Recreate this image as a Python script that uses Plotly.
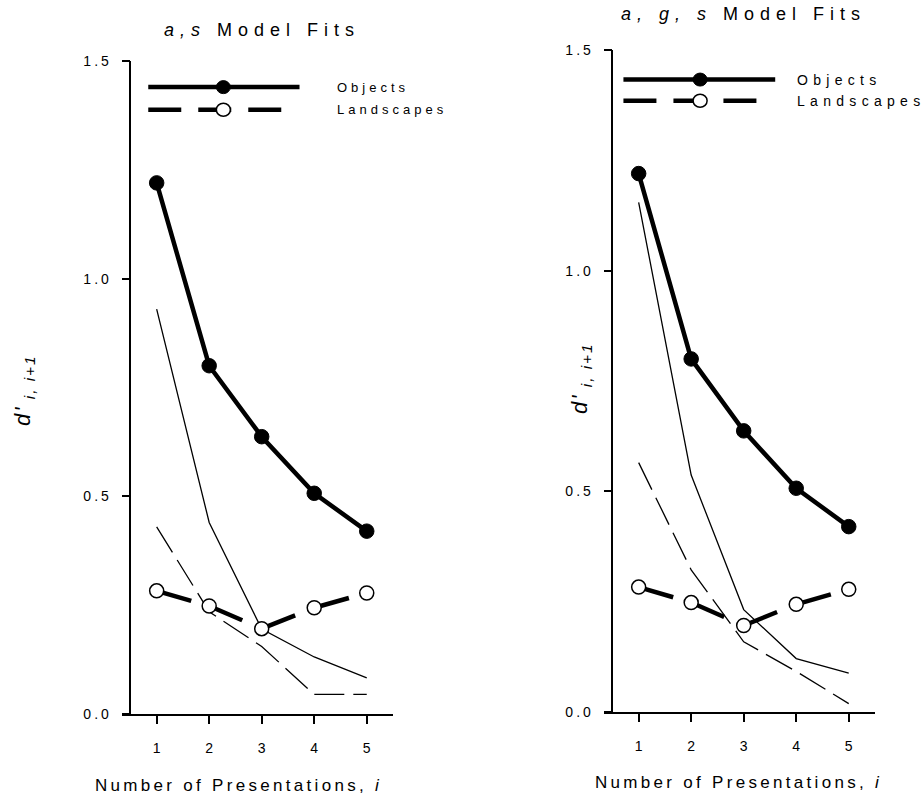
import plotly.graph_objects as go

# ---------------- data ----------------
presentations = [1, 2, 3, 4, 5]
objects_obs = [1.22, 0.80, 0.637, 0.507, 0.42]
landscapes_obs = [0.283, 0.248, 0.196, 0.244, 0.278]

as_objects_fit = [0.93, 0.44, 0.195, 0.131, 0.083]
as_landscapes_fit = [0.43, 0.235, 0.155, 0.045, 0.045]

ags_objects_fit = [1.155, 0.537, 0.232, 0.121, 0.088]
ags_landscapes_fit = [0.565, 0.322, 0.159, 0.092, 0.019]

panel_titles = ["<i>a,s</i> Model Fits", "<i>a, g, s</i> Model Fits"]
x_title = "Number of Presentations, <i>i</i>"
y_title = "<i>d'</i><sub><i> i, i+1</i></sub>"
legend_labels = ["Objects", "Landscapes"]
x_ticks = [1, 2, 3, 4, 5]
y_ticks = [0.0, 0.5, 1.0, 1.5]
y_ticktext = ["0.0", "0.5", "1.0", "1.5"]

# ---------------- layout geometry ----------------
W, H = 924, 801
FONT = "Liberation Sans, Arial, sans-serif"
XR = [0.34, 5.5]
YR = [0, 1.5]


def px_x(v):
    return v / W


def px_y(v):
    return 1 - v / H


def spaced(txt, px):
    return "<span style='letter-spacing:%spx'>%s</span>" % (px, txt)


def spaced_plain(txt, px):
    # letter spacing between characters only (no trailing space after the last one)
    return spaced(txt[:-1], px) + txt[-1]


panels = [
    dict(xd=[px_x(122), px_x(393)], yd=[px_y(714), px_y(61)],
         fits=(as_objects_fit, as_landscapes_fit),
         title_xy=(262, 30), xt_xy=(238, 785), yt_xy=(24, 390),
         leg_y=(1.44, 1.388), leg_x=(0.84, 3.72, 2.27, 3.42), leg_tx=4.40,
         leg_font=13, leg_sp=4),
    dict(xd=[px_x(604), px_x(875)], yd=[px_y(712), px_y(50)],
         fits=(ags_objects_fit, ags_landscapes_fit),
         title_xy=(743, 14), xt_xy=(738, 782), yt_xy=(581, 378),
         leg_y=(1.433, 1.385), leg_x=(0.71, 3.60, 2.17, 3.30), leg_tx=3.98,
         leg_font=14, leg_sp=5.3),
]

fig = go.Figure()
shapes = []
annotations = []

for k, p in enumerate(panels):
    xa = "x" if k == 0 else "x2"
    ya = "y" if k == 0 else "y2"
    obj_fit, land_fit = p["fits"]

    # model fits (thin)
    fig.add_trace(go.Scatter(x=presentations, y=obj_fit, mode="lines",
                             line=dict(color="black", width=1.3),
                             xaxis=xa, yaxis=ya, showlegend=False, hoverinfo="skip"))
    fig.add_trace(go.Scatter(x=presentations, y=land_fit, mode="lines",
                             line=dict(color="black", width=1.3, dash="30px,9px"),
                             xaxis=xa, yaxis=ya, showlegend=False, hoverinfo="skip"))
    # observed objects (thick solid)
    fig.add_trace(go.Scatter(x=presentations, y=objects_obs, mode="lines",
                             line=dict(color="black", width=4.5),
                             xaxis=xa, yaxis=ya, showlegend=False, hoverinfo="skip"))
    # observed landscapes (thick dashed, pattern restarts at each point)
    for i in range(len(presentations) - 1):
        fig.add_trace(go.Scatter(x=presentations[i:i + 2], y=landscapes_obs[i:i + 2],
                                 mode="lines",
                                 line=dict(color="black", width=4.5, dash="36px,200px"),
                                 xaxis=xa, yaxis=ya, showlegend=False, hoverinfo="skip"))
    # markers
    fig.add_trace(go.Scatter(x=presentations, y=objects_obs, mode="markers",
                             marker=dict(color="black", size=14.5, symbol="circle",
                                         line=dict(color="black", width=1)),
                             xaxis=xa, yaxis=ya, showlegend=False))
    fig.add_trace(go.Scatter(x=presentations, y=landscapes_obs, mode="markers",
                             marker=dict(color="white", size=14, symbol="circle",
                                         line=dict(color="black", width=1.5)),
                             xaxis=xa, yaxis=ya, showlegend=False))

    # legend (drawn inside the axes)
    lx0, lx1, mx, lx1b = p["leg_x"]
    y_obj, y_land = p["leg_y"]
    shapes.append(dict(type="line", xref=xa, yref=ya, x0=lx0, x1=lx1, y0=y_obj, y1=y_obj,
                       line=dict(color="black", width=4.5)))
    shapes.append(dict(type="line", xref=xa, yref=ya, x0=lx0, x1=lx1b, y0=y_land, y1=y_land,
                       line=dict(color="black", width=4.5, dash="33px,17px")))
    shapes.append(dict(type="circle", xref=xa, yref=ya, xsizemode="pixel", ysizemode="pixel",
                       xanchor=mx, yanchor=y_obj, x0=-7, x1=7, y0=-6.5, y1=6.5,
                       fillcolor="black", line=dict(color="black", width=1)))
    shapes.append(dict(type="circle", xref=xa, yref=ya, xsizemode="pixel", ysizemode="pixel",
                       xanchor=mx, yanchor=y_land, x0=-7, x1=7, y0=-6.5, y1=6.5,
                       fillcolor="white", line=dict(color="black", width=1.5)))
    for lab, yy in zip(legend_labels, (y_obj, y_land)):
        annotations.append(dict(text=spaced_plain(lab, p["leg_sp"]), xref=xa, yref=ya,
                                x=p["leg_tx"], y=yy,
                                xanchor="left", yanchor="middle", showarrow=False,
                                font=dict(family=FONT, size=p["leg_font"], color="black")))

    # titles
    tx, ty = p["title_xy"]
    annotations.append(dict(text=spaced(panel_titles[k], 6), xref="paper", yref="paper",
                            x=px_x(tx), y=px_y(ty), xanchor="center", yanchor="middle",
                            showarrow=False, font=dict(family=FONT, size=18, color="black")))
    xx, xy = p["xt_xy"]
    annotations.append(dict(text=spaced(x_title, 3.3), xref="paper", yref="paper",
                            x=px_x(xx), y=px_y(xy), xanchor="center", yanchor="middle",
                            showarrow=False, font=dict(family=FONT, size=17, color="black")))
    yx, yy = p["yt_xy"]
    annotations.append(dict(text=spaced(y_title, 2), xref="paper", yref="paper",
                            x=px_x(yx), y=px_y(yy), xanchor="center", yanchor="middle",
                            textangle=-90, showarrow=False,
                            font=dict(family=FONT, size=22, color="black")))

axis_common_x = dict(range=XR, showgrid=False, zeroline=False, showline=True,
                     automargin=False,
                     linecolor="black", linewidth=1.5, ticks="outside", ticklen=8,
                     tickwidth=1.5, tickcolor="black", tickvals=x_ticks,
                     ticklabelstandoff=12,
                     tickfont=dict(family=FONT, size=14, color="black"))
axis_common_y = dict(range=YR, showgrid=False, zeroline=False, showline=True,
                     automargin=False,
                     linecolor="black", linewidth=1.5, ticks="outside", ticklen=8,
                     tickwidth=1.5, tickcolor="black", tickvals=y_ticks,
                     ticktext=[spaced_plain(t, 3) for t in y_ticktext], ticklabelstandoff=10,
                     tickfont=dict(family=FONT, size=14, color="black"))


def ypos(p):
    x0, x1 = p["xd"]
    return x0 + (0.5 - XR[0]) / (XR[1] - XR[0]) * (x1 - x0)


fig.update_layout(
    width=W, height=H,
    margin=dict(l=0, r=0, t=0, b=0, pad=0, autoexpand=False),
    paper_bgcolor="white", plot_bgcolor="white",
    showlegend=False,
    xaxis=dict(domain=panels[0]["xd"], anchor="y", **axis_common_x),
    yaxis=dict(domain=panels[0]["yd"], anchor="free", position=ypos(panels[0]), **axis_common_y),
    xaxis2=dict(domain=panels[1]["xd"], anchor="y2", **axis_common_x),
    yaxis2=dict(domain=panels[1]["yd"], anchor="free", position=ypos(panels[1]), **axis_common_y),
    shapes=shapes,
    annotations=annotations,
)

fig.write_html("out.html",
               config={"displayModeBar": False},
               post_script="document.body.style.margin='0';document.body.style.overflow='hidden';")
